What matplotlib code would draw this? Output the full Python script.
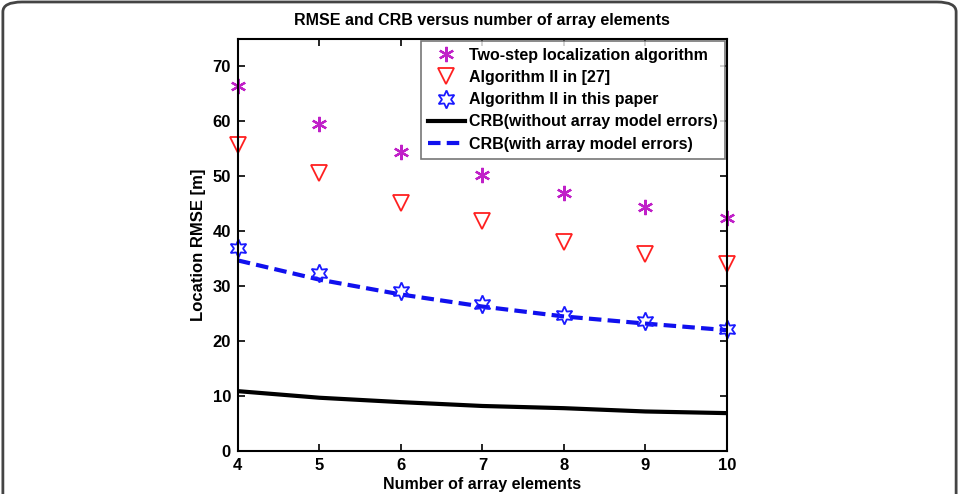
import matplotlib
matplotlib.use("Agg")
import matplotlib.pyplot as plt
from matplotlib.patches import FancyBboxPatch

plt.rcParams['font.family'] = ['Liberation Sans', 'DejaVu Sans']
plt.rcParams['font.weight'] = 'bold'

# number of array elements
elements = [4, 5, 6, 7, 8, 9, 10]

# location RMSE [m]
two_step = [66.5, 59.6, 54.4, 50.2, 46.9, 44.4, 42.5]
alg2_ref27 = [55.7, 50.7, 45.2, 41.8, 38.1, 35.8, 34.0]
alg2_paper = [37.0, 32.4, 29.2, 26.8, 24.8, 23.6, 22.2]
crb_no_err = [10.9, 9.7, 8.9, 8.2, 7.8, 7.2, 6.9]
crb_err = [34.7, 31.2, 28.5, 26.3, 24.5, 23.2, 22.0]

fig = plt.figure(figsize=(9.59, 4.94), dpi=100)
ax = fig.add_axes([0.248, 0.087, 0.51, 0.834])

asterisk = (6, 2, 0)
hexagram = (6, 1, 0)

ax.plot(elements, crb_no_err, color='black', linewidth=3,
        label='CRB(without array model errors)')
ax.plot(elements, crb_err, color='#1010ee', linewidth=3, linestyle=(0, (3, 1.5)),
        label='CRB(with array model errors)')
ax.plot(elements, two_step, linestyle='none', marker=asterisk, markersize=11,
        color='#c020c8', markeredgewidth=1.6, clip_on=False,
        label='Two-step localization algorithm')
ax.plot(elements, alg2_ref27, linestyle='none', marker='v', markersize=12,
        markerfacecolor='none', markeredgecolor='#ff2020', markeredgewidth=1.3,
        clip_on=False, label='Algorithm II in [27]')
ax.plot(elements, alg2_paper, linestyle='none', marker=hexagram, markersize=13,
        markerfacecolor='none', markeredgecolor='#1a1aff', markeredgewidth=1.3,
        clip_on=False, label='Algorithm II in this paper')

ax.set_xlim(4, 10)
ax.set_ylim(0, 75)
ax.set_xticks(elements)
ax.set_yticks(range(0, 80, 10))
ax.tick_params(direction='in', length=5, width=1.2, labelsize=12, top=True, right=True, pad=5)
for lbl in ax.get_xticklabels() + ax.get_yticklabels():
    lbl.set_fontweight('bold')
for sp in ax.spines.values():
    sp.set_linewidth(1.5)

ax.set_xlabel('Number of array elements', fontsize=11.5, fontweight='bold', labelpad=3)
ax.set_ylabel('Location RMSE [m]', fontsize=12, fontweight='bold', labelpad=5)
ax.set_title('RMSE and CRB versus number of array elements', fontsize=11.5,
             fontweight='bold', pad=10)

handles, labels = ax.get_legend_handles_labels()
order = [2, 3, 4, 0, 1]
leg = ax.legend([handles[i] for i in order], [labels[i] for i in order],
                loc='upper right', fontsize=11.5, frameon=True, fancybox=False,
                edgecolor='#555555', borderaxespad=0.1, handlelength=2.3,
                labelspacing=0.45, handletextpad=0.3, borderpad=0.45)
leg.get_frame().set_linewidth(1.2)
for t in leg.get_texts():
    t.set_fontweight('bold')

frame = FancyBboxPatch((0.003, -0.05), 0.994, 1.046, boxstyle='round,pad=0,rounding_size=0.02',
                       transform=fig.transFigure, facecolor='none', edgecolor='#444444',
                       linewidth=2, clip_on=False)
fig.patches.append(frame)

fig.savefig('out.png', dpi=100)
